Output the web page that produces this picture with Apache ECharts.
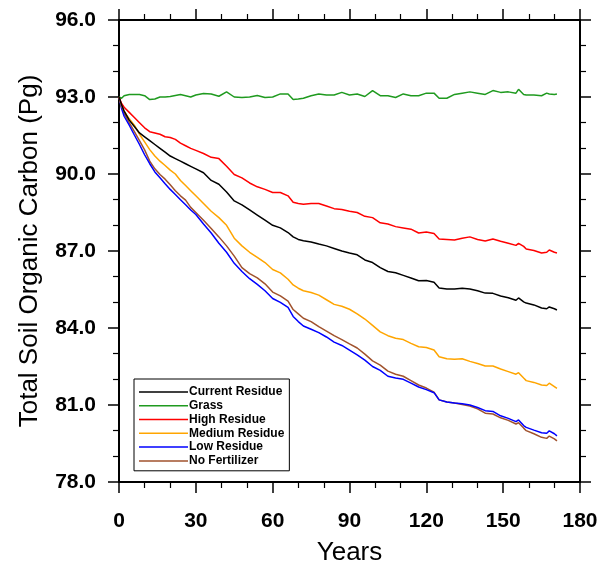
<!DOCTYPE html>
<html>
<head>
<meta charset="utf-8">
<script src="https://cdn.jsdelivr.net/npm/echarts@6/dist/echarts.min.js"></script>
<style>html,body{margin:0;padding:0;background:#fff}#c{width:601px;height:572px}</style>
</head>
<body>
<div id="c"></div>
<script>
const years = [0,1,2,4,6,8,10,12,14,16,18,20,22,24,26,28,30,33,36,39,42,45,48,51,54,57,60,63,66,68,70,72,75,78,81,84,87,90,93,96,99,102,105,108,111,114,117,120,123,125,128,131,134,137,140,143,146,149,152,155,156,158,159,162,165,167,168,170,171];

const currentResidue = [93.0,92.7,92.45,92.1,91.85,91.6,91.45,91.3,91.15,91.0,90.85,90.7,90.6,90.5,90.4,90.3,90.2,90.05,89.75,89.6,89.3,88.95,88.8,88.6,88.4,88.2,88.0,87.9,87.72,87.55,87.45,87.4,87.35,87.27,87.2,87.1,87.0,86.92,86.85,86.65,86.55,86.35,86.2,86.15,86.05,85.95,85.84,85.85,85.78,85.56,85.52,85.52,85.55,85.52,85.45,85.36,85.35,85.25,85.18,85.08,85.17,85.02,84.97,84.9,84.78,84.75,84.82,84.75,84.7];

const grass = [93.0,92.95,93.05,93.1,93.1,93.1,93.05,92.9,92.92,93.0,93.0,93.02,93.06,93.1,93.05,93.0,93.08,93.14,93.12,93.03,93.2,93.0,92.98,93.0,93.06,92.98,93.0,93.12,93.12,92.9,92.92,92.95,93.05,93.12,93.08,93.08,93.18,93.08,93.12,93.02,93.25,93.05,93.05,92.98,93.12,93.05,93.05,93.15,93.15,92.95,92.95,93.1,93.15,93.2,93.15,93.1,93.25,93.18,93.2,93.15,93.3,93.1,93.08,93.08,93.05,93.15,93.12,93.1,93.12];

const highResidue = [93.0,92.75,92.6,92.4,92.2,92.0,91.8,91.65,91.6,91.55,91.45,91.42,91.35,91.2,91.1,91.0,90.92,90.8,90.65,90.6,90.3,89.98,89.85,89.65,89.5,89.4,89.28,89.28,89.15,88.9,88.85,88.82,88.85,88.85,88.75,88.65,88.62,88.55,88.5,88.35,88.3,88.1,88.05,87.95,87.9,87.85,87.7,87.74,87.68,87.47,87.45,87.43,87.5,87.55,87.45,87.39,87.47,87.38,87.3,87.22,87.3,87.18,87.08,87.02,86.92,86.95,87.04,86.95,86.92];

const mediumResidue = [93.0,92.65,92.45,92.15,91.9,91.55,91.25,90.95,90.7,90.5,90.33,90.15,90.0,89.75,89.55,89.35,89.15,88.85,88.55,88.3,88.0,87.5,87.2,86.95,86.75,86.55,86.28,86.15,85.9,85.68,85.55,85.45,85.38,85.28,85.1,84.92,84.85,84.73,84.55,84.35,84.1,83.85,83.7,83.6,83.55,83.4,83.27,83.24,83.14,82.88,82.8,82.78,82.8,82.7,82.62,82.52,82.52,82.4,82.3,82.2,82.26,82.05,81.95,81.88,81.78,81.76,81.85,81.72,81.65];

const lowResidue = [93.0,92.55,92.25,91.9,91.52,91.15,90.75,90.4,90.08,89.85,89.62,89.4,89.2,89.0,88.8,88.6,88.42,88.05,87.7,87.3,86.95,86.52,86.2,85.92,85.7,85.45,85.15,85.0,84.8,84.45,84.25,84.08,83.95,83.82,83.65,83.45,83.32,83.14,82.95,82.75,82.5,82.35,82.12,82.05,82.0,81.85,81.7,81.6,81.48,81.2,81.12,81.08,81.05,81.0,80.9,80.78,80.75,80.58,80.48,80.35,80.42,80.2,80.13,80.02,79.92,79.9,79.99,79.88,79.8];

const noFertilizer = [93.0,92.6,92.35,92.0,91.65,91.3,90.94,90.5,90.2,89.98,89.8,89.58,89.35,89.15,88.98,88.7,88.5,88.2,87.88,87.55,87.2,86.8,86.35,86.12,85.95,85.72,85.4,85.25,85.05,84.72,84.55,84.38,84.25,84.05,83.88,83.7,83.55,83.38,83.22,82.98,82.72,82.55,82.32,82.2,82.12,81.95,81.78,81.66,81.5,81.2,81.12,81.08,81.02,80.96,80.85,80.68,80.65,80.5,80.4,80.26,80.31,80.1,80.0,79.88,79.74,79.7,79.79,79.68,79.6];

const seriesNames = ['Current Residue','Grass','High Residue','Medium Residue','Low Residue','No Fertilizer'];
const seriesColors = ['#000000','#1f9a1f','#ff0000','#ffa500','#0000ff','#a0522d'];
const seriesValues = [currentResidue, grass, highResidue, mediumResidue, lowResidue, noFertilizer];

const xMin = 0, xMax = 180, xStep = 30;
const yMin = 78, yMax = 96, yStep = 3;

const chart = echarts.init(document.getElementById('c'), null, {renderer:'canvas'});
const FONT = '"Liberation Sans", Arial, Helvetica, sans-serif';

const axisCommonX = {
  type:'value', min:xMin, max:xMax, interval:xStep,
  axisLine:{show:true, onZero:false, lineStyle:{color:'#000', width:2}},
  axisTick:{show:true, length:11, lineStyle:{color:'#000', width:1.5}},
  minorTick:{show:true, splitNumber:3, length:6, lineStyle:{color:'#000', width:1.2}},
  splitLine:{show:false}, minorSplitLine:{show:false}
};
const axisCommonY = {
  type:'value', min:yMin, max:yMax, interval:yStep,
  axisLine:{show:true, onZero:false, lineStyle:{color:'#000', width:2}},
  axisTick:{show:true, length:11, lineStyle:{color:'#000', width:1.5}},
  minorTick:{show:true, splitNumber:3, length:6, lineStyle:{color:'#000', width:1.2}},
  splitLine:{show:false}, minorSplitLine:{show:false}
};

const option = {
  backgroundColor:'#fff',
  animation:false,
  grid:{left:119, right:21, top:20, bottom:90, containLabel:false},
  legend:{
    orient:'vertical', left:134, top:379,
    data:seriesNames,
    icon:'rect', itemWidth:49, itemHeight:1.5, itemGap:0,
    padding:[6,5,3,5],
    borderColor:'#000', borderWidth:1, backgroundColor:'#fff',
    textStyle:{fontFamily:FONT, fontSize:12, fontWeight:'bold', color:'#000', lineHeight:13.8, height:13.8, padding:[0,0,0,-4]},
    selectedMode:false
  },
  xAxis:[
    Object.assign({}, axisCommonX, {
      position:'bottom',
      name:'Years', nameLocation:'middle', nameGap:58,
      nameTextStyle:{fontFamily:FONT, fontSize:26, color:'#000'},
      axisLabel:{show:true, margin:29, fontFamily:FONT, fontSize:21, fontWeight:'bold', color:'#000'}
    }),
    Object.assign({}, axisCommonX, {position:'top', axisLabel:{show:false}})
  ],
  yAxis:[
    Object.assign({}, axisCommonY, {
      position:'left',
      name:'Total Soil Organic Carbon (Pg)', nameLocation:'middle', nameGap:76,
      nameTextStyle:{fontFamily:FONT, fontSize:26, color:'#000'},
      axisLabel:{show:true, margin:23, fontFamily:FONT, fontSize:21, fontWeight:'bold', color:'#000',
        formatter:v=>v.toFixed(1)}
    }),
    Object.assign({}, axisCommonY, {position:'right', axisLabel:{show:false}})
  ],
  series: seriesNames.map((n,i)=>({
    name:n, type:'line', xAxisIndex:0, yAxisIndex:0,
    data: years.map((y,k)=>[y, seriesValues[i][k]]),
    showSymbol:false, symbol:'none',
    lineStyle:{color:seriesColors[i], width:1.5},
    itemStyle:{color:seriesColors[i]},
    z: 10 - i
  }))
};
chart.setOption(option);
</script>
</body>
</html>
